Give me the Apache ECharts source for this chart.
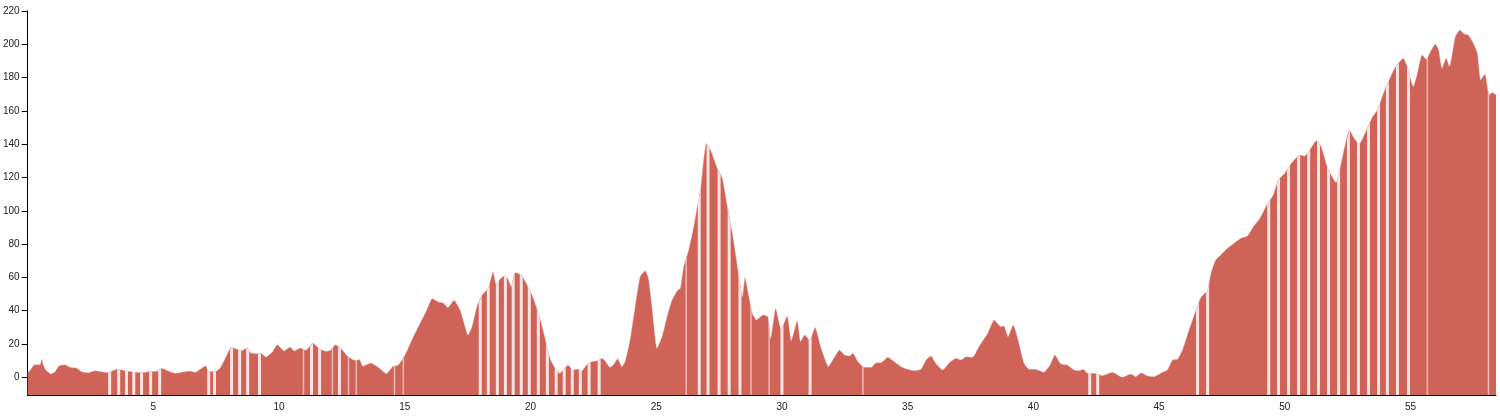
<!DOCTYPE html>
<html>
<head>
<meta charset="utf-8">
<script src="https://cdn.jsdelivr.net/npm/echarts@6/dist/echarts.min.js"></script>
<style>
html,body{margin:0;padding:0;background:#fff;}
#chart{width:1500px;height:416px;}
</style>
</head>
<body>
<div id="chart"></div>
<script>
// distance (km) along route
const distance = [0.0,0.16,0.27,0.49,0.56,0.62,0.72,0.93,1.09,1.25,1.49,1.68,1.95,2.15,2.41,2.68,2.94,3.21,3.54,3.87,4.27,4.54,4.80,5.13,5.33,5.60,5.86,6.19,6.46,6.66,6.92,7.08,7.19,7.45,7.65,7.83,8.10,8.30,8.51,8.73,8.87,9.13,9.27,9.47,9.73,9.93,10.2,10.44,10.6,10.84,11.07,11.33,11.6,11.87,12.04,12.24,12.47,12.73,13.0,13.2,13.33,13.64,13.93,14.27,14.53,14.73,15.0,15.27,15.6,15.87,16.09,16.33,16.53,16.71,16.96,17.2,17.36,17.51,17.67,17.87,18.07,18.33,18.51,18.63,18.76,18.96,19.09,19.23,19.39,19.63,19.83,20.03,20.23,20.43,20.63,20.8,20.96,21.16,21.36,21.49,21.69,21.89,22.03,22.23,22.43,22.69,22.83,22.96,23.16,23.29,23.47,23.63,23.76,23.96,24.16,24.36,24.56,24.69,24.83,25.03,25.23,25.43,25.63,25.83,25.96,26.09,26.29,26.49,26.63,26.76,26.87,26.99,27.16,27.43,27.63,27.83,28.03,28.29,28.43,28.53,28.69,28.83,28.98,29.25,29.44,29.55,29.75,29.97,30.21,30.37,30.61,30.74,30.9,31.1,31.32,31.56,31.85,32.06,32.29,32.49,32.69,32.82,33.02,33.28,33.55,33.74,33.94,34.21,34.47,34.74,35.0,35.26,35.53,35.73,35.93,36.1,36.39,36.66,36.92,37.12,37.32,37.58,37.85,38.18,38.44,38.7,38.83,38.99,39.2,39.36,39.63,39.83,40.09,40.42,40.66,40.86,41.09,41.35,41.62,41.82,41.99,42.15,42.41,42.75,43.14,43.54,43.87,44.07,44.3,44.54,44.8,45.13,45.33,45.53,45.73,45.93,46.19,46.42,46.66,46.92,47.06,47.25,47.45,47.72,47.98,48.25,48.51,48.75,49.01,49.28,49.54,49.74,50.0,50.26,50.59,50.79,50.99,51.25,51.45,51.71,52.04,52.24,52.57,52.76,52.96,53.22,53.49,53.68,53.95,54.21,54.41,54.71,54.87,55.11,55.26,55.46,55.63,55.79,55.99,56.12,56.25,56.42,56.55,56.78,56.97,57.13,57.3,57.5,57.66,57.79,57.96,58.13,58.26,58.4];
// elevation at each distance
const elevation = [2.5,5.5,7.5,7.5,11,7.5,4.4,2,3.4,6.9,7.5,6,5.5,3.4,2.8,4,3.4,2.8,4.8,4,3,2.8,3.4,3.6,5.5,3.8,2.4,3.2,3.8,3,5.5,6.9,3.6,3.4,5.5,10.5,18,17,16,17.8,14.6,14.2,14.6,12.2,15.2,19.6,15.8,18.2,15.8,17.6,16.2,20.6,17.2,15.6,16.2,19.6,17.2,12.6,10.2,10.6,6.6,8.6,6.2,2.2,6.6,7.2,13.2,22.2,32.3,40.3,47.3,45.3,44.7,41.9,46.3,40.3,32.3,25.3,30.3,42.7,49.3,54,63.4,56,58.5,61,59.5,54.5,62.9,61.5,56.5,50.5,42.4,32.4,20.4,10.4,6,2.4,5.4,7.4,4.4,4.8,3.8,7.4,9.4,10,11.4,10,6,7.4,11.2,6.4,9.4,22.4,42.4,60.5,64,59.5,42.4,17.4,24.4,36.4,46.4,51.9,53.5,66.5,76.5,90.5,102.5,112.5,128.5,140.5,136.5,125.5,119.5,102.5,86.5,60.5,48.4,60,48,38,34.4,37.4,36.4,23.4,41.4,28.8,36.8,22,34,21.4,25.4,22.4,30,17.4,6.4,11.4,16.4,13.4,12.8,14.4,9.4,6,6,8.8,8.8,12,9.4,6.4,4.8,4,4.8,10.4,12.8,8.8,4.4,8.8,11.4,10.4,12.4,12,18.8,26.4,34.4,30.4,30.8,24.4,31.4,24.4,8.4,4.8,4.8,3,7.4,13.4,8,7.4,4.4,4,4.8,2.4,2.4,1,3,0,2,0.4,2.8,0.8,0.4,3,4.4,10.4,10.8,16.4,28.4,38.4,48,52,62.5,70.5,73.5,77.5,80.5,83.5,84.9,90.5,95.5,103.5,109.5,118.5,122.5,128.5,133.5,132.9,136.5,142.1,138.5,125.5,116.9,128.5,148.5,143.5,140.1,147.5,156.5,160.6,171.6,180.6,186.6,191.6,186.6,174.6,181.6,193.6,191,195.6,200.2,196.6,185.6,191.6,186.6,204.6,208.6,206.2,205.6,200.6,194.6,178.6,182.2,169.6,171,169.6];
// segment boundaries drawn as light stripes
const stripesBright = [3.26,3.62,3.93,4.22,4.53,4.89,5.25,7.20,7.43,8.11,8.43,8.75,9.22,11.29,11.61,12.40,18.00,18.32,18.68,19.00,19.31,19.63,19.95,20.31,20.67,21.02,21.34,21.66,21.98,22.33,22.73,26.71,27.06,27.50,27.90,28.33,30.00,31.12,42.24,42.56,46.53,46.93,49.36,49.75,50.15,50.55,50.95,51.34,51.74,52.14,52.53,52.93,53.33,53.73,54.08,54.48,54.92];
const stripesFaint = [10.97,12.12,12.76,13.07,14.59,14.94,26.19,28.77,29.49,33.22,55.67,58.10];
const xTicks = [5,10,15,20,25,30,35,40,45,50,55];
const yTicks = [0,20,40,60,80,100,120,140,160,180,200,220];

const X_MIN = 0, X_MAX = 58.4, Y_MIN = -10.6, Y_MAX = 220;
const profile = distance.map((d, i) => [d, elevation[i]]);

const chart = echarts.init(document.getElementById('chart'), null, {renderer: 'canvas'});

function stripeRenderer(width, fill) {
  return function (params, api) {
    const x = api.value(0);
    const top = api.coord([x, Y_MAX]);
    const bot = api.coord([x, Y_MIN]);
    const pts = [api.coord([X_MIN, Y_MIN])];
    for (const p of profile) pts.push(api.coord(p));
    pts.push(api.coord([X_MAX, Y_MIN]));
    return {
      type: 'rect',
      shape: {x: top[0] - width / 2, y: top[1], width: width, height: bot[1] - top[1]},
      style: {fill: fill},
      clipPath: {type: 'polygon', shape: {points: pts}}
    };
  };
}

const font = "'Liberation Sans', Arial, sans-serif";
chart.setOption({
  animation: false,
  grid: {left: 26, right: 4, top: 11, bottom: 21, containLabel: false},
  xAxis: {
    type: 'value', min: X_MIN, max: X_MAX, interval: 5,
    axisLine: {show: true, onZero: false, lineStyle: {color: '#000', width: 1}},
    axisTick: {show: false},
    axisLabel: {customValues: xTicks, color: '#222', fontSize: 10, fontFamily: font, margin: 7},
    splitLine: {show: false}
  },
  yAxis: {
    type: 'value', min: Y_MIN, max: Y_MAX,
    axisLine: {show: true, lineStyle: {color: '#000', width: 1}},
    axisTick: {show: true, length: 6, customValues: yTicks, lineStyle: {color: '#000'}},
    axisLabel: {customValues: yTicks, color: '#222', fontSize: 10, fontFamily: font, margin: 8},
    splitLine: {show: false}
  },
  series: [
    {
      type: 'line', data: profile, showSymbol: false, symbol: 'none',
      smooth: 0.15,
      lineStyle: {width: 0},
      areaStyle: {color: '#cf6358', opacity: 1, origin: 'start'},
      z: 2
    },
    {
      type: 'custom', data: stripesBright.map(v => [v]),
      renderItem: stripeRenderer(3, '#fbe4e1'), z: 3, silent: true
    },
    {
      type: 'custom', data: stripesFaint.map(v => [v]),
      renderItem: stripeRenderer(1.5, 'rgba(250,215,210,0.75)'), z: 3, silent: true
    },
    {
      type: 'line', data: profile, showSymbol: false, symbol: 'none',
      smooth: 0.15,
      lineStyle: {width: 0.7, color: 'rgba(240,190,185,0.55)'}, z: 4, silent: true
    }
  ]
});
</script>
</body>
</html>
